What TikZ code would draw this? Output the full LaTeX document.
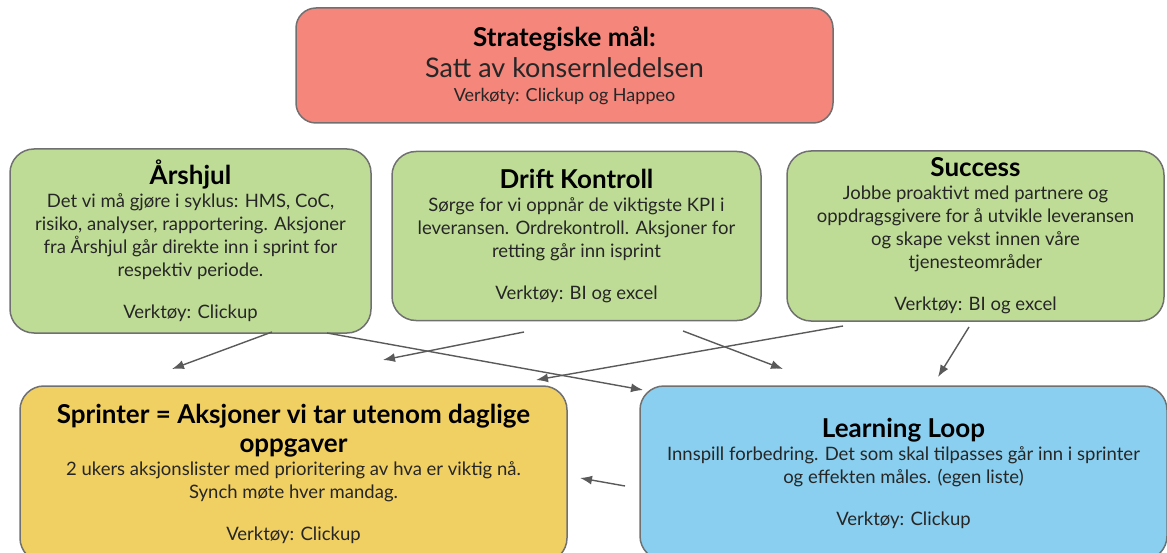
\documentclass[tikz,border=0pt]{standalone}
\usepackage{fontspec}
\setmainfont{Lato}
\usetikzlibrary{arrows.meta}
\usepackage{xcolor}

\definecolor{maalred}{HTML}{F4867C}
\definecolor{aarsgreen}{HTML}{BFDC97}
\definecolor{sprintyellow}{HTML}{F0CF63}
\definecolor{loopblue}{HTML}{8ACFEF}
\definecolor{edgegray}{HTML}{707070}
\definecolor{arrowgray}{HTML}{5A5A5A}

\newcommand{\bodyfont}{\fontsize{18.5}{23}\selectfont}
\newcommand{\tittel}[1]{{\color{black}\fontsize{26}{28}\selectfont\bfseries #1}}

\tikzset{
  boks/.style={draw=edgegray, line width=1.5pt, rounded corners=24pt, align=center,
    inner sep=0pt, font=\bodyfont, text=black!85},
  pil/.style={draw=arrowgray, line width=1.4pt, -{Latex[length=12pt,width=9pt]}},
}

\begin{document}
\begin{tikzpicture}[x=1pt,y=-1pt]
\useasboundingbox (0,0) rectangle (1167,553);
\clip (0,0) rectangle (1167,553);

% boxes
\node[boks, fill=maalred, rounded corners=20pt, minimum width=537pt, minimum height=115pt] (maal) at (564.5,65.5)
  {\tittel{Strategiske mål:}\\[6pt]
   {\fontsize{27}{28}\selectfont Satt av konsernledelsen}\\[1pt]
   {\fontsize{18}{20}\selectfont Verkøty: Clickup og Happeo}};
\node[boks, fill=aarsgreen, minimum width=361pt, minimum height=184pt] (aarshjul) at (190.5,241)
  {\tittel{Årshjul}\\
   Det vi må gjøre i syklus: HMS, CoC,\\
   risiko, analyser, rapportering. Aksjoner\\
   fra Årshjul går direkte inn i sprint for\\
   respektiv periode.\\[19pt]
   Verktøy: Clickup};
\node[boks, fill=aarsgreen, minimum width=369pt, minimum height=169pt] (drift) at (576.5,236)
  {\tittel{Drift Kontroll}\\
   Sørge for vi oppnår de viktigste KPI i\\
   leveransen. Ordrekontroll. Aksjoner for\\
   retting går inn isprint\\[19pt]
   Verktøy: BI og excel};
\node[boks, fill=aarsgreen, minimum width=377pt, minimum height=170pt] (success) at (975.5,236)
  {\tittel{Success}\\
   Jobbe proaktivt med partnere og\\
   oppdragsgivere for å utvikle leveransen\\
   og skape vekst innen våre\\
   tjenesteområder\\[19pt]
   Verktøy: BI og excel};
\node[boks, fill=sprintyellow, minimum width=547pt, minimum height=176pt] (sprint) at (293.5,474)
  {\tittel{Sprinter = Aksjoner vi tar utenom daglige}\\[6pt]
   \tittel{oppgaver}\\
   2 ukers aksjonslister med prioritering av hva er viktig nå.\\
   Synch møte hver mandag.\\[19pt]
   Verktøy: Clickup};
\node[boks, fill=loopblue, minimum width=527pt, minimum height=174pt] (loop) at (903.5,473)
  {\tittel{Learning Loop}\\
   Innspill forbedring. Det som skal tilpasses går inn i sprinter\\
   og effekten måles. (egen liste)\\[19pt]
   Verktøy: Clickup};

% arrows
\coordinate (s1) at (272,332); \coordinate (e1) at (172,369);
\coordinate (s2) at (524,332); \coordinate (e2) at (383,360);
\coordinate (s3) at (327,333); \coordinate (e3) at (643,390);
\coordinate (s4) at (843,326); \coordinate (e4) at (536,380);
\coordinate (s5) at (683,331); \coordinate (e5) at (783,369);
\coordinate (s6) at (969,327); \coordinate (e6) at (938,377);
\coordinate (s7) at (625,486); \coordinate (e7) at (580,478);
\foreach \i in {1,...,7}
  \draw[pil] (s\i) -- (e\i);
\end{tikzpicture}
\end{document}
